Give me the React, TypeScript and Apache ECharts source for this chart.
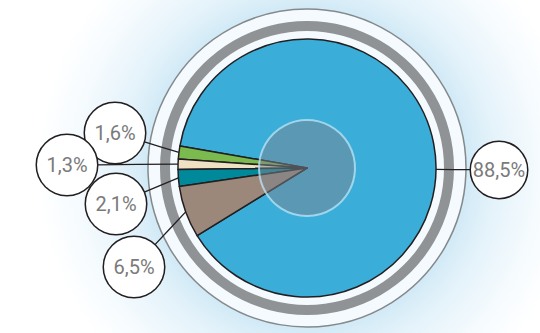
import React, { useEffect, useRef } from "react";
import * as echarts from "echarts";

// ---- data ----
const categories = ["Share 1", "Share 2", "Share 3", "Share 4", "Share 5"];
const values = [88.5, 1.6, 1.3, 2.1, 6.5];
const valueLabels = ["88,5%", "1,6%", "1,3%", "2,1%", "6,5%"];

// ---- styling / layout ----
const sliceColors = ["#3badd9", "#7bba4f", "#efe2c4", "#00899b", "#9c887b"];
const labelCenters: number[][] = [
  [499, 170],
  [115, 133],
  [67, 165],
  [116, 204],
  [134, 267],
];
const labelRadii = [28, 30, 30, 30, 30];

const CX = 307;
const CY = 168;
const R = 129;
const START = 211.6;
const FONT = "Roboto, sans-serif";

export default function App() {
  const ref = useRef<HTMLDivElement>(null);

  useEffect(() => {
    if (!ref.current) return;
    const chart = echarts.init(ref.current, undefined, { renderer: "svg" });
    const total = values.reduce((a, b) => a + b, 0);

    const deco = (z: number, radius: any, style: any) => ({
      type: "pie",
      z,
      silent: true,
      center: [CX, CY],
      radius,
      label: { show: false },
      labelLine: { show: false },
      emphasis: { disabled: true },
      itemStyle: style,
      data: [{ value: 1, name: "" }],
    });

    const option: any = {
      animation: false,
      backgroundColor: "#ffffff",
      series: [
        deco(1, [0, 300], {
          color: {
            type: "radial",
            x: 0.5,
            y: 0.5,
            r: 0.5,
            colorStops: [
              { offset: 0, color: "#c6e5f4" },
              { offset: 0.52, color: "#cfe9f6" },
              { offset: 0.62, color: "#e3f2fa" },
              { offset: 0.78, color: "#f6fbfe" },
              { offset: 0.9, color: "#ffffff" },
              { offset: 1, color: "#ffffff" },
            ],
          },
        }),
        deco(2, [0, 159], { color: "#f4fafd", borderColor: "#85898c", borderWidth: 1.5 }),
        deco(3, [137, 147], { color: "#8f9396" }),
        {
          type: "pie",
          z: 4,
          center: [CX, CY],
          radius: [0, R],
          startAngle: START,
          clockwise: false,
          avoidLabelOverlap: false,
          silent: true,
          emphasis: { disabled: true },
          itemStyle: { borderColor: "#231f20", borderWidth: 1.5 },
          labelLine: { show: true, lineStyle: { color: "#231f20", width: 1.3 } },
          label: {
            show: true,
            position: "outside",
            formatter: (p: any) => valueLabels[p.dataIndex],
            color: "#7a7a7a",
            fontFamily: FONT,
            fontSize: 20,
            overflow: "none",
            align: "center",
            verticalAlign: "middle",
            backgroundColor: "#ffffff",
            borderColor: "#231f20",
            borderWidth: 1.5,
          },
          labelLayout: (params: any) => {
            const i = params.dataIndex;
            const [lx, ly] = labelCenters[i];
            const rr = labelRadii[i];
            let cum = 0;
            for (let k = 0; k < i; k++) cum += values[k];
            let ang: number;
            if (values[i] / total > 0.5) {
              ang = (Math.atan2(-(ly - CY), lx - CX) * 180) / Math.PI;
            } else {
              ang = START + ((cum + values[i] / 2) / total) * 360;
            }
            const rad = (ang * Math.PI) / 180;
            const p0 = [CX + R * Math.cos(rad), CY - R * Math.sin(rad)];
            const dx = p0[0] - lx;
            const dy = p0[1] - ly;
            const d = Math.hypot(dx, dy);
            const pe = [lx + (dx / d) * rr, ly + (dy / d) * rr];
            const mid = [(p0[0] + pe[0]) / 2, (p0[1] + pe[1]) / 2];
            return {
              x: lx,
              y: ly,
              align: "center",
              verticalAlign: "middle",
              labelLinePoints: [p0, mid, pe],
            };
          },
          data: values.map((v, i) => ({
            value: v,
            name: categories[i],
            itemStyle: { color: sliceColors[i] },
            label: {
              width: labelRadii[i] * 2,
              height: labelRadii[i] * 2,
              lineHeight: labelRadii[i] * 2,
              borderRadius: labelRadii[i],
            },
          })),
        },
        deco(5, [0, 48], {
          color: "rgba(122,132,142,0.5)",
          borderColor: "rgba(190,230,248,0.75)",
          borderWidth: 2,
        }),
      ],
    };

    chart.setOption(option);
    return () => chart.dispose();
  }, []);

  return (
    <div
      ref={ref}
      style={{ position: "absolute", left: 0, top: 0, width: 540, height: 333 }}
    />
  );
}
